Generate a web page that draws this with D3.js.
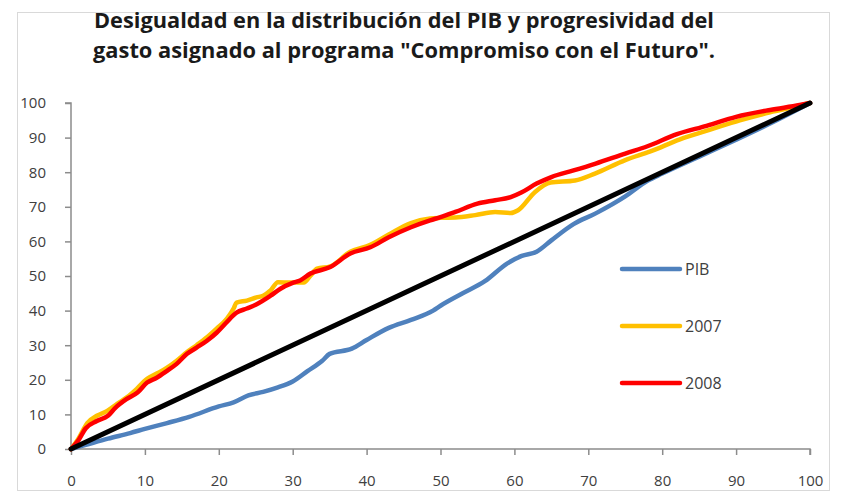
<!DOCTYPE html>
<html>
<head>
<meta charset="utf-8">
<script src="https://cdn.jsdelivr.net/npm/d3@7"></script>
<style>
  body { margin: 0; background: #fff; }
  svg { display: block; }
  .tick text { font-family: "Open Sans", sans-serif; font-size: 15px; fill: #404040; }
</style>
</head>
<body>
<svg id="chart"></svg>
<script>
// x = % acumulado de población, y = % acumulado
const pibX = [0, 2, 5, 8, 10, 13, 16, 20, 22, 24, 26, 28, 30, 32, 34, 35, 38, 40, 43, 46, 49, 50, 53, 56, 59, 61, 63, 65, 68, 71, 75, 78, 80, 85, 90, 95, 100];
const pibY = [0, 1.2, 3, 4.6, 5.8, 7.5, 9.3, 12.3, 13.5, 15.5, 16.5, 17.8, 19.5, 22.5, 25.5, 27.5, 29, 31.5, 35, 37.3, 40, 41.4, 45, 48.5, 53.6, 55.8, 57, 60.3, 65, 68.1, 73, 77.5, 79.6, 84.5, 89.4, 94.5, 100];

const y2007X = [0, 1, 2.2, 3.5, 4.9, 6.2, 7.6, 8.9, 10.3, 11.6, 13, 14.3, 15.7, 17, 18.4, 19.7, 21.1, 22, 22.4, 23.8, 25.1, 26, 27, 28, 29.7, 31.5, 32.4, 33.3, 35.1, 37.8, 40.5, 43, 46, 48.6, 50, 52, 54.7, 57.4, 59.5, 60.5, 62.8, 64.9, 68.2, 70.9, 75, 78.4, 82.4, 86.5, 90.5, 94.6, 98.6, 100];
const y2007Y = [0, 3, 7.5, 9.6, 11, 13, 15, 17.4, 20.3, 21.8, 23.5, 25.5, 28, 30, 32.3, 34.8, 37.7, 40.6, 42.3, 42.9, 43.8, 44.3, 45.8, 48.2, 48.1, 48.1, 50.1, 52.1, 52.8, 57, 59, 62, 65.3, 66.6, 66.8, 66.9, 67.6, 68.5, 68.2, 69, 74.3, 77, 77.6, 79.6, 83.5, 86, 89.5, 92.3, 95, 97.3, 99.2, 100];

const y2008X = [0, 1, 2, 3.5, 5, 6, 7.5, 9, 10.3, 11.6, 13, 14.3, 15.7, 17, 18.4, 19.7, 21, 22.4, 23.8, 25, 27, 28.4, 30, 31, 32.4, 35, 37.8, 40.5, 43, 46, 48.6, 50, 52, 55, 57.4, 59.5, 61, 63, 65, 68, 71, 75, 78, 82, 86, 90, 94.6, 98.6, 100];
const y2008Y = [0, 2.5, 6, 8.1, 9.6, 11.9, 14.4, 16.3, 19.2, 20.6, 22.6, 24.6, 27.5, 29.3, 31.3, 33.6, 36.5, 39.4, 40.6, 41.7, 44.3, 46.4, 48, 48.7, 50.7, 52.5, 56.5, 58.3, 61.2, 64.1, 66.1, 67, 68.5, 70.9, 71.9, 72.8, 74.2, 76.7, 78.6, 80.5, 82.5, 85.4, 87.5, 91, 93.4, 96, 98, 99.4, 100];

const equalX = [0, 100];
const equalY = [0, 100];

const xTicks = [0, 10, 20, 30, 40, 50, 60, 70, 80, 90, 100];
const yTicks = [0, 10, 20, 30, 40, 50, 60, 70, 80, 90, 100];

const titleLines = ["Desigualdad en la distribución del PIB y progresividad del",
                    "gasto asignado al programa \"Compromiso con el Futuro\"."];

const seriesNames = ["PIB", "2007", "2008"];
const seriesColors = ["#4F81BD", "#FFC000", "#FF0000"];

const width = 842, height = 493;
const svg = d3.select("#chart").attr("width", width).attr("height", height);

// marco
svg.append("rect")
    .attr("x", 17.5).attr("y", 12.5)
    .attr("width", 812).attr("height", 478)
    .attr("fill", "none").attr("stroke", "#d9d9d9");

const x = d3.scaleLinear([0, 100], [71, 810]);
const y = d3.scaleLinear([0, 100], [449, 103]);

const xAxis = d3.axisBottom(x).tickValues(xTicks).tickSize(6).tickPadding(20);
const yAxis = d3.axisLeft(y).tickValues(yTicks).tickSize(6).tickPadding(19);

const gx = svg.append("g").attr("transform", `translate(0,${y(0)})`).call(xAxis);
const gy = svg.append("g").attr("transform", `translate(${x(0)},0)`).call(yAxis);
[gx, gy].forEach(g => {
    g.select(".domain").attr("stroke", "#8c8c8c").attr("stroke-width", 1.5);
    g.selectAll(".tick line").attr("stroke", "#8c8c8c").attr("stroke-width", 1.5);
});
gx.select(".domain").attr("d", `M${x(0)},0H${x(100)}V6`);
gy.select(".domain").attr("d", `M-6,${y(100)}H0V${y(0)}`);

const line = d3.line().curve(d3.curveMonotoneX);
const toPts = (xs, ys) => xs.map((v, i) => [x(v), y(ys[i])]);

const series = [
    toPts(pibX, pibY),
    toPts(y2007X, y2007Y),
    toPts(y2008X, y2008Y)
];

svg.selectAll(".serie")
    .data(series)
    .join("path")
    .attr("class", "serie")
    .attr("d", line)
    .attr("fill", "none")
    .attr("stroke", (d, i) => seriesColors[i])
    .attr("stroke-width", 4.5)
    .attr("stroke-linejoin", "round")
    .attr("stroke-linecap", "round");

svg.append("path")
    .attr("d", line(toPts(equalX, equalY)))
    .attr("fill", "none")
    .attr("stroke", "#000")
    .attr("stroke-width", 5)
    .attr("stroke-linecap", "round");

// leyenda
const legend = svg.selectAll(".legend")
    .data(seriesNames)
    .join("g")
    .attr("class", "legend")
    .attr("transform", (d, i) => `translate(622,${269 + i * 57})`);
legend.append("line")
    .attr("x1", 0).attr("x2", 58)
    .attr("stroke", (d, i) => seriesColors[i])
    .attr("stroke-width", 4.5)
    .attr("stroke-linecap", "round");
legend.append("text")
    .attr("x", 63).attr("dy", "0.35em")
    .attr("font-family", "Open Sans, sans-serif")
    .attr("font-size", 16)
    .attr("fill", "#404040")
    .text(d => d);

// título
svg.selectAll(".title")
    .data(titleLines)
    .join("text")
    .attr("class", "title")
    .attr("x", 404)
    .attr("y", (d, i) => 28 + i * 30)
    .attr("text-anchor", "middle")
    .attr("font-family", "Open Sans, sans-serif")
    .attr("font-weight", "bold")
    .attr("font-size", 21)
    .attr("fill", "#1a1a1a")
    .attr("textLength", (d, i) => i === 0 ? 620 : 622)
    .attr("lengthAdjust", "spacingAndGlyphs")
    .text(d => d);
</script>
</body>
</html>
